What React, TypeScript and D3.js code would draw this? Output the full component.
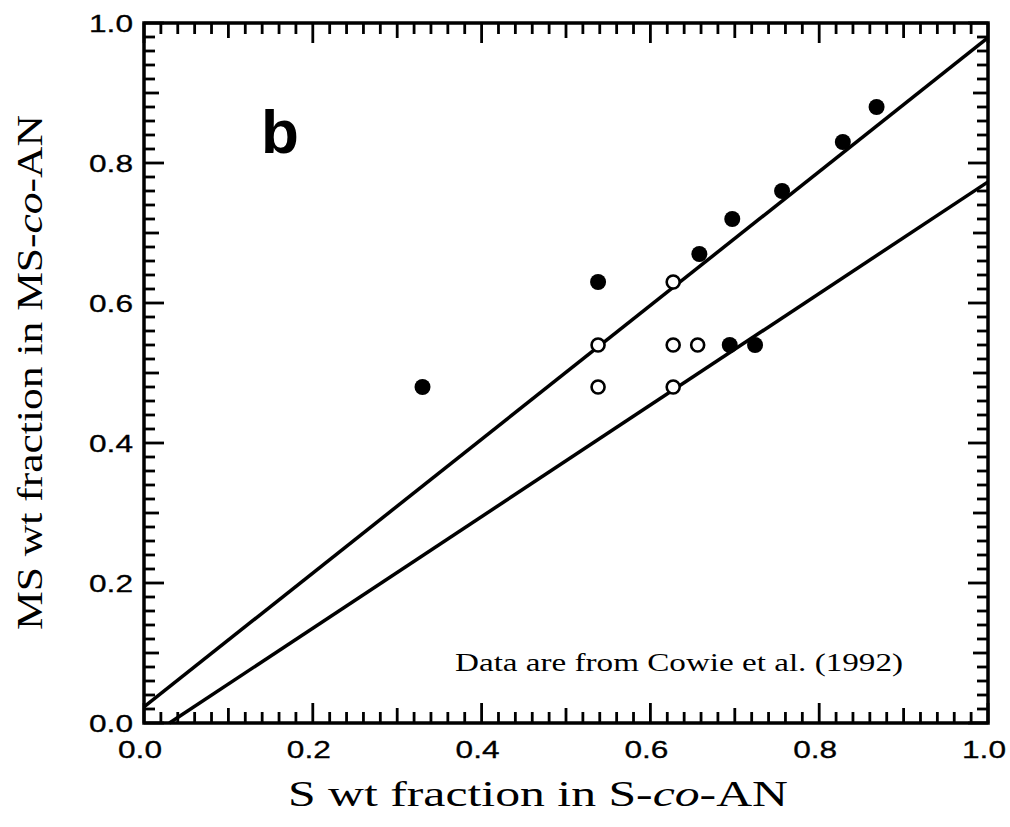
import React from "react";
import * as d3 from "d3";

const filledX = [0.33, 0.538, 0.658, 0.697, 0.756, 0.828, 0.868, 0.694, 0.724];
const filledY = [0.48, 0.63, 0.67, 0.72, 0.76, 0.83, 0.88, 0.54, 0.54];
const openX = [0.538, 0.538, 0.627, 0.627, 0.627, 0.656];
const openY = [0.54, 0.48, 0.63, 0.54, 0.48, 0.54];
// fitted lines: [intercept, slope]
const upperLine = [0.023, 0.956];
const lowerLine = [-0.024, 0.797];
const tickLabels = ["0.0", "0.2", "0.4", "0.6", "0.8", "1.0"];
const tickValues = [0, 0.2, 0.4, 0.6, 0.8, 1.0];

const W = 1010, H = 827;
const L = 144, T = 23, R = 988, B = 723;

export default function App() {
  const x = d3.scaleLinear().domain([0, 1]).range([L, R]);
  const y = d3.scaleLinear().domain([0, 1]).range([B, T]);
  const minor = d3.range(0, 51).map((i) => i / 50);
  const tickLen = (i: number) => (i % 10 === 0 ? 20 : i % 5 === 0 ? 15 : 11);

  const lineFor = (p: number[]) => {
    const [a, b] = p;
    let x0 = 0;
    if (a < 0) x0 = -a / b;
    const x1 = 1;
    return d3.line<number>()
      .x((v) => x(v))
      .y((v) => y(a + b * v))([x0, x1]);
  };

  const tickFont = "'Liberation Sans', Arial, sans-serif";
  const serif = "'Liberation Serif', 'Times New Roman', serif";

  return (
    <svg width={W} height={H} style={{ position: "absolute", left: 0, top: 0, background: "#fff" }}>
      <rect x={0} y={0} width={W} height={H} fill="#fff" />
      {minor.map((v, i) => {
        const len = tickLen(i);
        return (
          <g key={i} stroke="#000" strokeWidth={2.8}>
            <line x1={x(v)} x2={x(v)} y1={B} y2={B - len} />
            <line x1={x(v)} x2={x(v)} y1={T} y2={T + len} />
            <line x1={L} x2={L + len} y1={y(v)} y2={y(v)} />
            <line x1={R} x2={R - len} y1={y(v)} y2={y(v)} />
          </g>
        );
      })}
      <rect x={L} y={T} width={R - L} height={B - T} fill="none" stroke="#000" strokeWidth={3.5} />
      {tickValues.map((v, i) => (
        <text key={"x" + i} x={x(v) - 4} y={B + 35} textAnchor="middle" fontFamily={tickFont} fontSize={24}
          textLength={44} lengthAdjust="spacingAndGlyphs" stroke="#000" strokeWidth={0.3}>
          {tickLabels[i]}
        </text>
      ))}
      {tickValues.map((v, i) => (
        <text key={"y" + i} x={L - 11} y={y(v) + 9} textAnchor="end" fontFamily={tickFont} fontSize={24}
          textLength={44} lengthAdjust="spacingAndGlyphs" stroke="#000" strokeWidth={0.3}>
          {tickLabels[i]}
        </text>
      ))}
      <path d={lineFor(upperLine) || ""} fill="none" stroke="#000" strokeWidth={3.5} />
      <path d={lineFor(lowerLine) || ""} fill="none" stroke="#000" strokeWidth={3.5} />
      {openX.map((v, i) => (
        <circle key={"o" + i} cx={x(v)} cy={y(openY[i])} r={6.5} fill="#fff" stroke="#000" strokeWidth={2.6} />
      ))}
      {filledX.map((v, i) => (
        <circle key={"f" + i} cx={x(v)} cy={y(filledY[i])} r={8} fill="#000" />
      ))}
      <text x={261} y={153} fontFamily={tickFont} fontWeight="bold" fontSize={62}>b</text>
      <text x={455} y={671} fontFamily={serif} fontSize={26} textLength={448} lengthAdjust="spacingAndGlyphs">
        Data are from Cowie et al. (1992)
      </text>
      <text x={288} y={806} fontFamily={serif} fontSize={35} textLength={500} lengthAdjust="spacingAndGlyphs">
        S wt fraction in S-<tspan fontStyle="italic">co</tspan>-AN
      </text>
      <text transform={`translate(42, 630) rotate(-90)`} fontFamily={serif} fontSize={35} textLength={515} lengthAdjust="spacingAndGlyphs">
        MS wt fraction in MS-<tspan fontStyle="italic">co</tspan>-AN
      </text>
    </svg>
  );
}
